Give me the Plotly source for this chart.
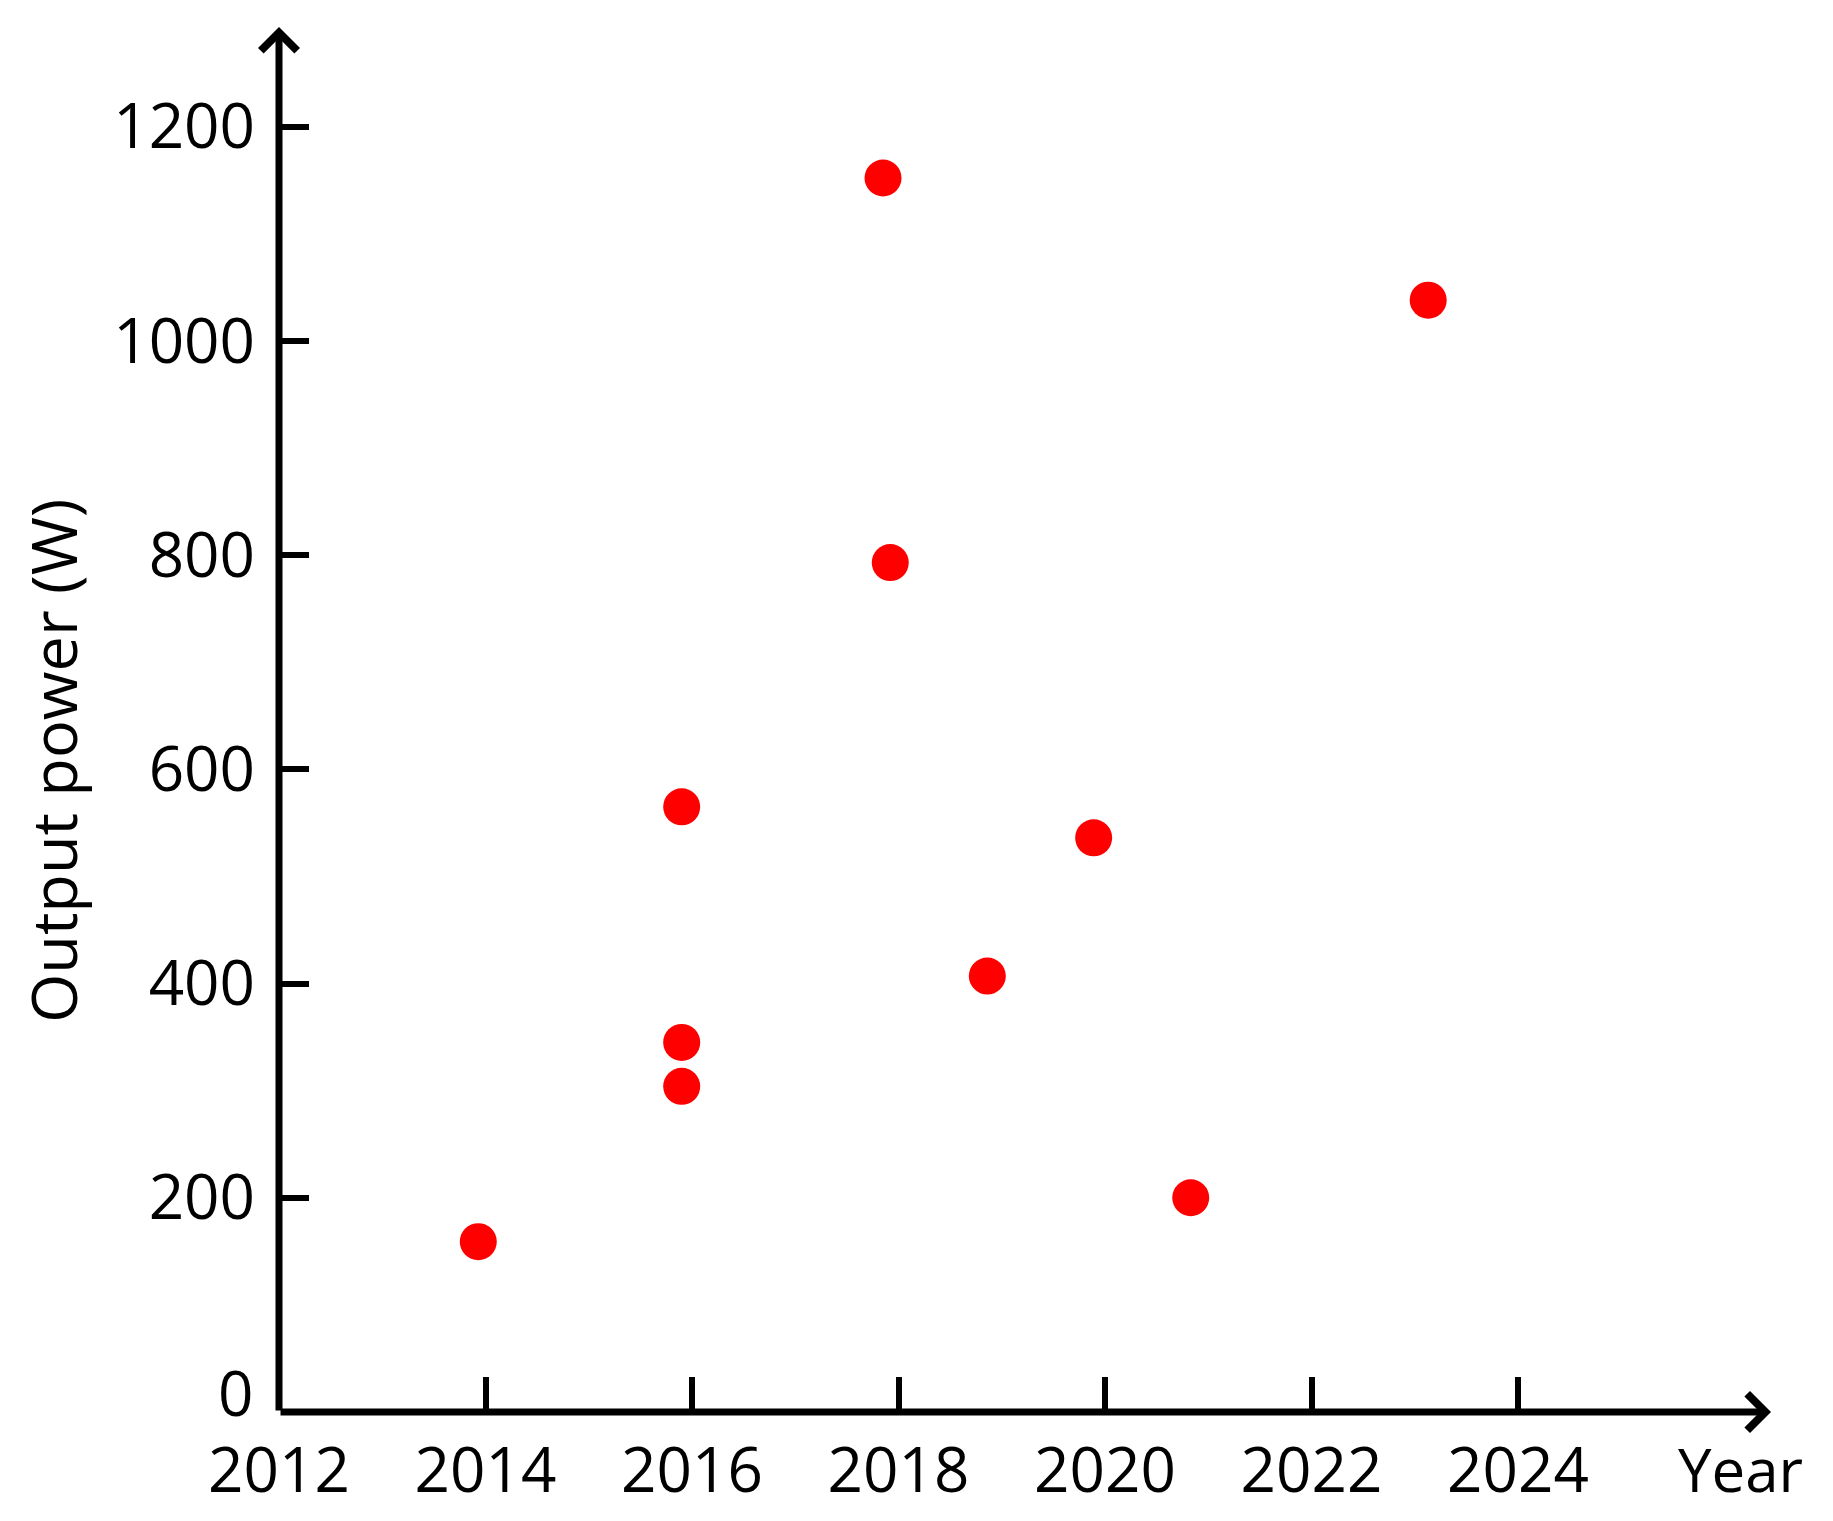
import plotly.graph_objects as go

# values
years = [2013.93, 2015.9, 2015.9, 2015.9, 2017.85, 2017.92, 2018.86, 2019.89, 2020.83, 2023.13]
power = [159, 565, 345, 304, 1152, 793, 407, 536, 200, 1038]

x_ticks = [2012, 2014, 2016, 2018, 2020, 2022, 2024]
y_ticks = [0, 200, 400, 600, 800, 1000, 1200]

x_end = 2026.45
y_end = 1293
font = 'Open Sans'

fig = go.Figure()
fig.add_trace(go.Scatter(
    x=years, y=power, mode='markers',
    marker=dict(color='#ff0000', size=37, line=dict(width=0)),
    showlegend=False,
))

# axis lines with chevron heads
fig.add_annotation(x=x_end, y=0, ax=x_ticks[0], ay=0, xref='x', yref='y', axref='x', ayref='y',
                   showarrow=True, arrowhead=4, arrowsize=1.0, arrowwidth=7, arrowcolor='black',
                   standoff=0, text='')
fig.add_annotation(x=x_ticks[0], y=y_end, ax=x_ticks[0], ay=0, xref='x', yref='y', axref='x', ayref='y',
                   showarrow=True, arrowhead=4, arrowsize=1.0, arrowwidth=7, arrowcolor='black',
                   standoff=0, text='')
fig.add_annotation(x=2026.15, y=0, xref='x', yref='paper', yshift=-57, yanchor='middle', showarrow=False,
                   text='Year', font=dict(family=font, size=60, color='black'))
# the zero label sits a bit above the x axis
fig.add_annotation(x=x_ticks[0], y=0, xref='x', yref='y', xanchor='right', yanchor='middle',
                   xshift=-24, yshift=20, showarrow=False,
                   text='0', font=dict(family=font, size=62, color='black'))
fig.add_annotation(x=0, y=608, xref='paper', yref='y', xanchor='center', yanchor='middle',
                   xshift=-226, textangle=-90, showarrow=False,
                   text='Output power (W)', font=dict(family=font, size=63, color='black'))

fig.update_xaxes(
    range=[x_ticks[0], x_end], tickvals=x_ticks, showline=False, showgrid=False, zeroline=False,
    ticks='inside', ticklen=35, tickwidth=6, tickcolor='black', automargin=False,
    ticklabelstandoff=17,
    tickfont=dict(family=font, size=62, color='black'),
)
fig.update_yaxes(
    range=[0, y_end], tickvals=y_ticks, ticktext=[''] + [str(v) for v in y_ticks[1:]],
    showline=False, showgrid=False, zeroline=False,
    ticks='inside', ticklen=30, tickwidth=6, tickcolor='black', automargin=False,
    ticklabelstandoff=23,
    tickfont=dict(family=font, size=62, color='black'),
)
fig.update_layout(
    width=1833, height=1521, plot_bgcolor='white', paper_bgcolor='white',
    margin=dict(l=271, r=70, t=19, b=117),
)
fig.write_html('out.html')
